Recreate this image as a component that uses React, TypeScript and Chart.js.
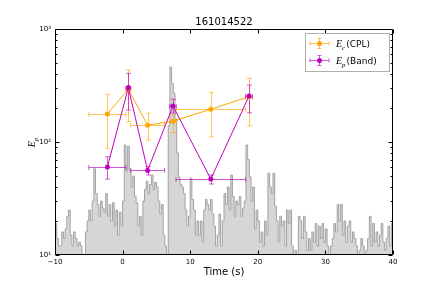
import React, { useEffect, useRef } from "react";
import { Chart, registerables } from "chart.js";

Chart.register(...registerables);

const TITLE = "161014522";
const X_LABEL = "Time (s)";
const X_TICKS = [-10, 0, 10, 20, 30, 40];
const Y_TICKS = [10, 100, 1000];
const Y_TICK_LABELS = ["10¹", "10²", "10³"];

// light curve (counts, shown on the same log axis), 0.25 s bins starting at -10 s
const HIST_START = -10;
const HIST_BIN = 0.25;
const HIST_END = 40;
const HIST_COUNTS = [
  19, 14, 12, 12,
  16, 14, 17, 22,
  25, 15, 12, 16,
  14, 12, 13, 12,
  8, 8, 16, 20,
  25, 20, 30, 58,
  35, 28, 22, 30,
  26, 24, 35, 22,
  28, 20, 29, 18,
  25, 15, 24, 18,
  30, 94, 55, 92,
  57, 40, 50, 33,
  29, 18, 22, 15,
  30, 38, 45, 35,
  42, 51, 38, 44,
  40, 30, 23, 28,
  15, 12, 9, 140,
  461, 330, 270, 160,
  80, 49, 42, 40,
  35, 25, 18, 22,
  48, 31, 25, 15,
  20, 15, 20, 13,
  25, 31, 28, 25,
  31, 23, 18, 12,
  15, 23, 12, 20,
  35, 28, 40, 25,
  51, 33, 22, 30,
  28, 33, 22, 26,
  30, 94, 70, 49,
  30, 40, 17, 25,
  20, 13, 16, 12,
  20, 15, 53, 40,
  35, 53, 27, 20,
  13, 22, 18, 20,
  12, 25, 19, 25,
  12, 10, 11, 10,
  22, 20, 14, 22,
  16, 11, 14, 11,
  16, 13, 19, 12,
  18, 14, 19, 13,
  17, 12, 10, 12,
  14, 19, 16, 28,
  20, 28, 15, 20,
  13, 18, 20, 13,
  16, 14, 12, 10,
  11, 14, 12, 10,
  11, 14, 22, 12,
  19, 13, 16, 12,
  15, 19, 13, 11,
  14, 18, 12, 19,
];

// time bins of the spectral fits
const T_MID = [-2.25, 0.85, 3.7, 7.45, 13.05, 18.7];
const T_LO = [-5, 0.5, 1.2, 6.95, 7.9, 18.2];
const T_HI = [0.5, 1.2, 6.2, 7.95, 18.2, 19.2];

// Ec (CPL)
const CPL_E = [177, 293, 141, 153, 195, 252];
const CPL_E_LO = [88, 151, 104, 121, 111, 139];
const CPL_E_HI = [264, 433, 180, 173, 275, 366];

// Ep (Band)
const BAND_E = [60, 303, 56, 208, 47, 255];
const BAND_E_LO = [47, 192, 51, 180, 42.5, 181];
const BAND_E_HI = [74, 405, 60.5, 239, 51, 319];

const ORANGE = "#FFA500";
const ORANGE_ERR = "rgba(255,165,0,0.65)";
const MAGENTA = "#BF00BF";
const MAGENTA_ERR = "rgba(191,0,191,0.65)";

const SANS = '"DejaVu Sans"';
const SERIF = '"Liberation Serif"';

function drawMath(ctx: CanvasRenderingContext2D, x: number, y: number, sub: string, rest: string, size: number, measureOnly = false): number {
  ctx.font = `italic ${size}px ${SERIF}`;
  const wE = ctx.measureText("E").width;
  ctx.font = `italic ${Math.round(size * 0.7)}px ${SERIF}`;
  const wS = ctx.measureText(sub).width;
  ctx.font = `${Math.round(size * 0.85)}px ${SANS}`;
  const wR = ctx.measureText(rest).width;
  const total = wE + wS + 1 + wR;
  if (measureOnly) return total;
  ctx.textBaseline = "alphabetic";
  ctx.textAlign = "left";
  ctx.font = `italic ${size}px ${SERIF}`;
  ctx.fillText("E", x, y);
  ctx.font = `italic ${Math.round(size * 0.7)}px ${SERIF}`;
  ctx.fillText(sub, x + wE, y + size * 0.25);
  ctx.font = `${Math.round(size * 0.85)}px ${SANS}`;
  if (rest) ctx.fillText(rest, x + wE + wS + 1, y);
  return total;
}

const errorBarPlugin = {
  id: "errorBars",
  afterDatasetDraw(chart: any, args: any) {
    if (args.index !== 2) return;
    const ctx: CanvasRenderingContext2D = chart.ctx;
    const xs = chart.scales.x;
    const ys = chart.scales.y;
    const cap = 2.5;
    const draw = (color: string, e: number[], lo: number[], hi: number[]) => {
      ctx.save();
      ctx.strokeStyle = color;
      ctx.lineWidth = 1;
      for (let i = 0; i < T_MID.length; i++) {
        const px = Math.round(xs.getPixelForValue(T_MID[i])) + 0.5;
        const py = Math.round(ys.getPixelForValue(e[i])) + 0.5;
        const xl = xs.getPixelForValue(T_LO[i]);
        const xh = xs.getPixelForValue(T_HI[i]);
        const yl = ys.getPixelForValue(lo[i]);
        const yh = ys.getPixelForValue(hi[i]);
        ctx.beginPath();
        ctx.moveTo(xl, py); ctx.lineTo(xh, py);
        ctx.moveTo(xl, py - cap); ctx.lineTo(xl, py + cap);
        ctx.moveTo(xh, py - cap); ctx.lineTo(xh, py + cap);
        ctx.moveTo(px, yl); ctx.lineTo(px, yh);
        ctx.moveTo(px - cap, yl); ctx.lineTo(px + cap, yl);
        ctx.moveTo(px - cap, yh); ctx.lineTo(px + cap, yh);
        ctx.stroke();
      }
      ctx.restore();
    };
    draw(ORANGE_ERR, CPL_E, CPL_E_LO, CPL_E_HI);
    draw(MAGENTA_ERR, BAND_E, BAND_E_LO, BAND_E_HI);
  },
};

const decorPlugin = {
  id: "decor",
  afterDraw(chart: any) {
    const ctx: CanvasRenderingContext2D = chart.ctx;
    const { left, right, top, bottom } = chart.chartArea;
    const xs = chart.scales.x;
    const ys = chart.scales.y;
    const L = Math.round(left) + 0.5;
    const R = Math.round(right) - 0.5;
    const T = Math.round(top) + 0.5;
    const B = Math.round(bottom) - 0.5;
    ctx.save();
    ctx.strokeStyle = "#000";
    ctx.lineWidth = 1;
    ctx.beginPath();
    ctx.rect(L, T, R - L, B - T);
    // x major ticks (inside, top and bottom)
    for (const v of X_TICKS) {
      const x = Math.round(xs.getPixelForValue(v)) + 0.5;
      ctx.moveTo(x, B); ctx.lineTo(x, B - 4);
      ctx.moveTo(x, T); ctx.lineTo(x, T + 4);
    }
    // y ticks (log, major + minor)
    for (const v of Y_TICKS) {
      const y = Math.round(ys.getPixelForValue(v)) + 0.5;
      ctx.moveTo(L, y); ctx.lineTo(L + 4, y);
      ctx.moveTo(R, y); ctx.lineTo(R - 4, y);
    }
    for (const d of [10, 100]) {
      for (let k = 2; k <= 9; k++) {
        const y = Math.round(ys.getPixelForValue(k * d)) + 0.5;
        ctx.moveTo(L, y); ctx.lineTo(L + 2, y);
        ctx.moveTo(R, y); ctx.lineTo(R - 2, y);
      }
    }
    ctx.stroke();

    // title and axis labels
    ctx.fillStyle = "#000";
    ctx.textAlign = "center";
    ctx.textBaseline = "middle";
    ctx.font = `10px ${SANS}`;
    ctx.fillText(TITLE, (left + right) / 2, 22);
    ctx.fillText(X_LABEL, (left + right) / 2, 272);

    ctx.save();
    ctx.translate(32, (top + bottom) / 2);
    ctx.rotate(-Math.PI / 2);
    const w = drawMath(ctx, 0, 0, "p", "", 10, true);
    drawMath(ctx, -w / 2, 3, "p", "", 10);
    ctx.restore();

    // legend
    const bx = 305.5, by = 33.5, bw = 84, bh = 38;
    ctx.fillStyle = "#fff";
    ctx.fillRect(bx, by, bw, bh);
    ctx.strokeStyle = "#b0b0b0";
    ctx.strokeRect(bx, by, bw, bh);
    const items = [
      { c: ORANGE, ce: ORANGE_ERR, sub: "c", rest: "(CPL)", y: 43.5 },
      { c: MAGENTA, ce: MAGENTA_ERR, sub: "p", rest: "(Band)", y: 60.5 },
    ];
    for (const it of items) {
      const cx = 319.5;
      ctx.strokeStyle = it.ce;
      ctx.beginPath();
      ctx.moveTo(310, it.y); ctx.lineTo(329, it.y);
      ctx.moveTo(310, it.y - 2); ctx.lineTo(310, it.y + 2);
      ctx.moveTo(329, it.y - 2); ctx.lineTo(329, it.y + 2);
      ctx.moveTo(cx, it.y - 5); ctx.lineTo(cx, it.y + 5);
      ctx.moveTo(cx - 2, it.y - 5); ctx.lineTo(cx + 2, it.y - 5);
      ctx.moveTo(cx - 2, it.y + 5); ctx.lineTo(cx + 2, it.y + 5);
      ctx.stroke();
      ctx.fillStyle = it.c;
      ctx.beginPath();
      ctx.arc(cx, it.y, 2.5, 0, Math.PI * 2);
      ctx.fill();
      ctx.fillStyle = "#000";
      drawMath(ctx, 336, it.y + 3.5, it.sub, it.rest, 10);
    }
    ctx.restore();
  },
};

export default function App() {
  const ref = useRef<HTMLCanvasElement | null>(null);
  useEffect(() => {
    if (!ref.current) return;
    const hist = HIST_COUNTS.map((c, i) => ({ x: HIST_START + i * HIST_BIN, y: c }));
    hist.push({ x: HIST_END, y: HIST_COUNTS[HIST_COUNTS.length - 1] });
    const chart = new Chart(ref.current, {
      type: "line",
      data: {
        datasets: [
          {
            label: "Ep(Band)",
            data: T_MID.map((t, i) => ({ x: t, y: BAND_E[i] })),
            borderColor: MAGENTA,
            backgroundColor: MAGENTA,
            borderWidth: 1,
            pointRadius: 2.5,
            pointBorderWidth: 0,
            pointBackgroundColor: MAGENTA,
            fill: false,
          },
          {
            label: "Ec(CPL)",
            data: T_MID.map((t, i) => ({ x: t, y: CPL_E[i] })),
            borderColor: ORANGE,
            backgroundColor: ORANGE,
            borderWidth: 1,
            pointRadius: 2.5,
            pointBorderWidth: 0,
            pointBackgroundColor: ORANGE,
            fill: false,
          },
          {
            label: "counts",
            data: hist,
            stepped: true,
            borderColor: "#a3a3a3",
            backgroundColor: "#d6d6d6",
            borderWidth: 1,
            pointRadius: 0,
            fill: "start",
          },
        ],
      },
      options: {
        animation: false,
        responsive: false,
        devicePixelRatio: 1,
        layout: { padding: { left: 0, right: 43, top: 29, bottom: 0 } },
        plugins: { legend: { display: false }, title: { display: false }, tooltip: { enabled: false } },
        events: [],
        scales: {
          x: {
            type: "linear",
            min: -10,
            max: 40,
            grid: { display: false, drawTicks: false },
            border: { display: false },
            afterBuildTicks: (s: any) => { s.ticks = X_TICKS.map((v) => ({ value: v })); },
            afterFit: (s: any) => { s.height = 36; },
            ticks: {
              color: "#000",
              font: { family: "DejaVu Sans", size: 7 },
              padding: 3,
              maxRotation: 0,
              autoSkip: false,
              callback: (v: any) => String(v).replace("-", "\u2212"),
            },
          },
          y: {
            type: "logarithmic",
            min: 10,
            max: 1000,
            grid: { display: false, drawTicks: false },
            border: { display: false },
            afterBuildTicks: (s: any) => { s.ticks = Y_TICKS.map((v) => ({ value: v })); },
            afterFit: (s: any) => { s.width = 55; },
            ticks: {
              color: "#000",
              font: { family: "DejaVu Sans", size: 7 },
              padding: 4,
              autoSkip: false,
              callback: (v: any) => {
                const i = Y_TICKS.indexOf(Number(v));
                return i >= 0 ? Y_TICK_LABELS[i] : "";
              },
            },
          },
        },
      },
      plugins: [errorBarPlugin, decorPlugin],
    } as any);
    return () => chart.destroy();
  }, []);
  return (
    <div style={{ position: "absolute", left: 0, top: 0, width: 436, height: 291, background: "#fff" }}>
      <canvas ref={ref} width={436} height={291} style={{ display: "block" }} />
    </div>
  );
}
